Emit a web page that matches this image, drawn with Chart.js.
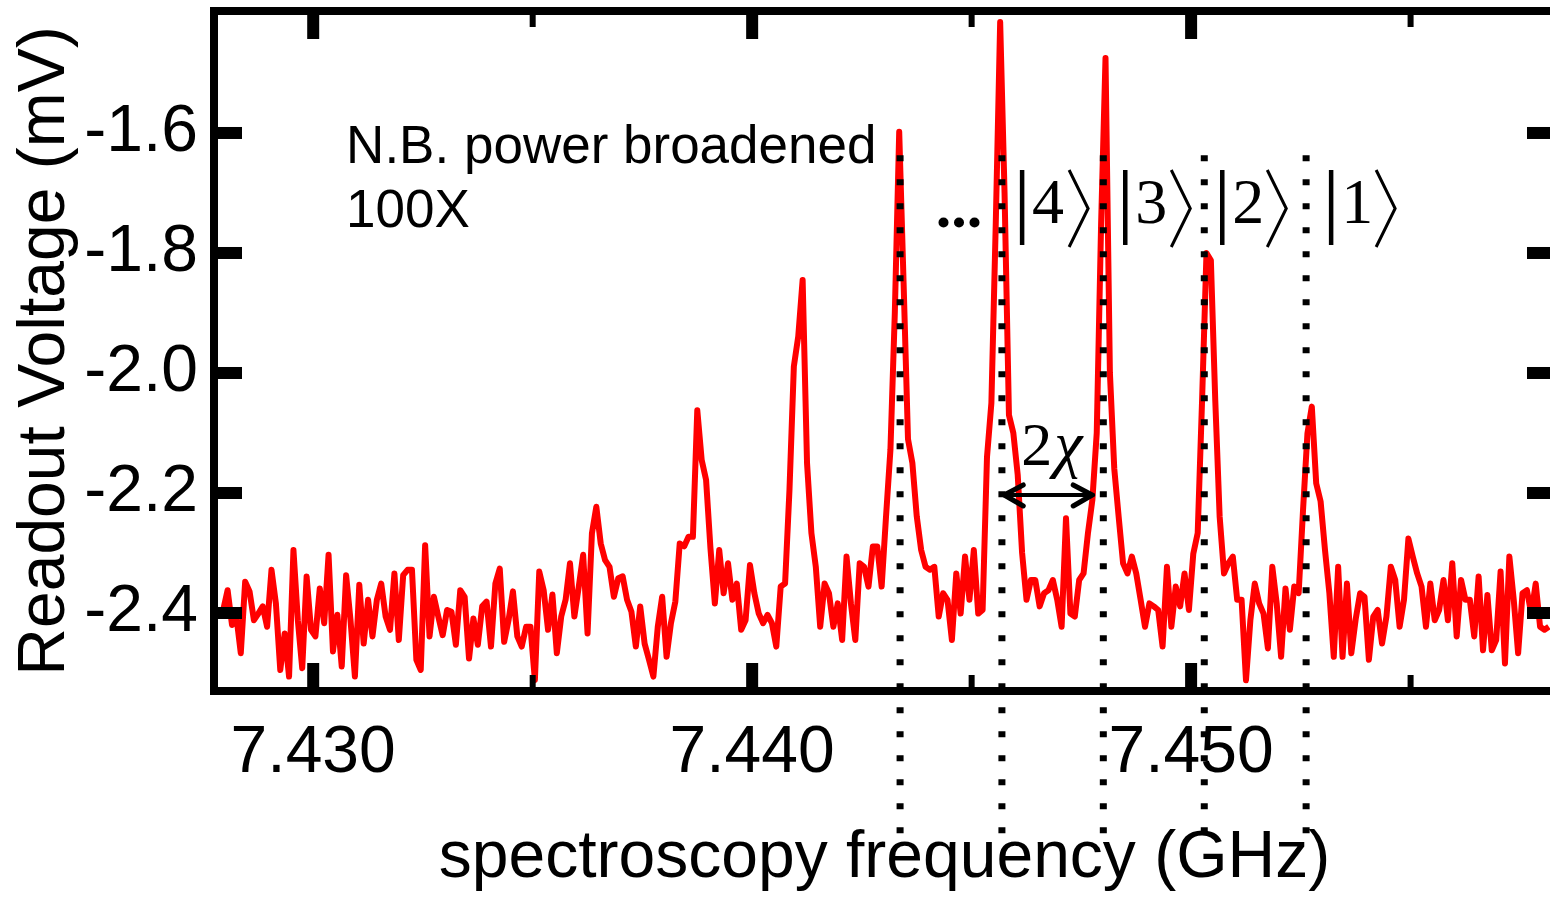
<!DOCTYPE html>
<html>
<head>
<meta charset="utf-8">
<script src="https://cdn.jsdelivr.net/npm/chart.js@4.4.1/dist/chart.umd.min.js"></script>
<style>
  html, body { margin: 0; padding: 0; background: #fff; overflow: hidden; }
  canvas { display: block; }
</style>
</head>
<body>
<canvas id="spec" width="1560" height="898"></canvas>
<script>
// sweep grid (GHz)
const freqStart = 7.42795
const freqStep = 0.0001

// readout voltage (mV), one value per sweep point
const readout = [
  -2.395, -2.362, -2.420, -2.406, -2.467, -2.348, -2.364, -2.412, -2.401, -2.389,
  -2.423, -2.328, -2.384, -2.495, -2.434, -2.506, -2.295, -2.412, -2.492, -2.339,
  -2.428, -2.439, -2.359, -2.417, -2.303, -2.464, -2.403, -2.489, -2.337, -2.412,
  -2.506, -2.353, -2.451, -2.378, -2.439, -2.378, -2.351, -2.406, -2.428, -2.334,
  -2.445, -2.337, -2.328, -2.328, -2.478, -2.495, -2.287, -2.439, -2.373, -2.406,
  -2.437, -2.395, -2.398, -2.453, -2.362, -2.373, -2.476, -2.409, -2.453, -2.389,
  -2.381, -2.456, -2.351, -2.326, -2.448, -2.412, -2.364, -2.439, -2.456, -2.423,
  -2.423, -2.512, -2.331, -2.362, -2.428, -2.369, -2.467, -2.406, -2.378, -2.317,
  -2.406, -2.356, -2.303, -2.434, -2.267, -2.223, -2.284, -2.312, -2.323, -2.373,
  -2.342, -2.339, -2.378, -2.398, -2.456, -2.389, -2.451, -2.478, -2.506, -2.423,
  -2.373, -2.473, -2.417, -2.381, -2.284, -2.289, -2.273, -2.273, -2.062, -2.145,
  -2.178, -2.292, -2.384, -2.295, -2.367, -2.317, -2.378, -2.351, -2.428, -2.412,
  -2.320, -2.367, -2.401, -2.417, -2.403, -2.417, -2.456, -2.356, -2.351, -2.195,
  -1.989, -1.939, -1.845, -2.150, -2.267, -2.323, -2.423, -2.351, -2.367, -2.423,
  -2.384, -2.445, -2.306, -2.384, -2.445, -2.317, -2.323, -2.356, -2.289, -2.289,
  -2.356, -2.239, -2.128, -1.900, -1.598, -1.850, -2.110, -2.150, -2.239, -2.295,
  -2.323, -2.328, -2.323, -2.406, -2.367, -2.378, -2.445, -2.334, -2.401, -2.306,
  -2.378, -2.295, -2.401, -2.395, -2.140, -2.050, -1.750, -1.415, -1.700, -2.070,
  -2.100, -2.170, -2.300, -2.378, -2.345, -2.345, -2.389, -2.367, -2.362, -2.345,
  -2.378, -2.423, -2.242, -2.401, -2.406, -2.345, -2.334, -2.267, -2.212, -2.100,
  -1.750, -1.475, -2.000, -2.160, -2.240, -2.317, -2.334, -2.306, -2.334, -2.378,
  -2.423, -2.384, -2.389, -2.395, -2.456, -2.323, -2.423, -2.356, -2.389, -2.334,
  -2.395, -2.301, -2.267, -2.045, -1.800, -1.812, -2.045, -2.239, -2.334, -2.317,
  -2.306, -2.378, -2.378, -2.512, -2.412, -2.351, -2.384, -2.401, -2.459, -2.323,
  -2.384, -2.473, -2.359, -2.428, -2.356, -2.367, -2.228, -2.101, -2.056, -2.184,
  -2.214, -2.295, -2.367, -2.473, -2.323, -2.473, -2.351, -2.467, -2.410, -2.367,
  -2.373, -2.478, -2.406, -2.395, -2.451, -2.406, -2.323, -2.345, -2.423, -2.378,
  -2.276, -2.306, -2.334, -2.356, -2.423, -2.351, -2.412, -2.395, -2.345, -2.412,
  -2.317, -2.439, -2.345, -2.378, -2.378, -2.439, -2.339, -2.462, -2.370, -2.462,
  -2.445, -2.331, -2.484, -2.306, -2.378, -2.467, -2.367, -2.362, -2.401, -2.351,
  -2.423, -2.428, -2.423
]

const xTickValues = [7.430, 7.435, 7.440, 7.445, 7.450, 7.455]
const yTickValues = [-2.4, -2.2, -2.0, -1.8, -1.6]

// dotted markers at the number-state peaks
const levelFreqs = [7.44337, 7.44569, 7.44800, 7.45030, 7.45262]
const levelSpan = [-1.637, -2.775]

// annotations
const noteLines = ['N.B. power broadened', '100X']
const ketLabels = ['4', '3', '2', '1']
const ketFreqs = [7.44615, 7.44850, 7.45071, 7.45319]
const arrowFreqs = [7.44572, 7.44777]

const sans = '"Liberation Sans", Arial, sans-serif'
const serif = '"Liberation Serif", "Times New Roman", serif'
const isMajor = v => Math.round(v * 1000) % 10 === 0

const frame = {
    id: 'frame',
    afterDatasetsDraw(chart) {
        const {ctx, chartArea: a, scales: {x, y}} = chart
        const lw = 8, h = lw / 2
        ctx.save()
        ctx.fillStyle = '#000'
        ctx.fillRect(a.left - h, a.top - h, a.right - a.left + lw, lw)
        ctx.fillRect(a.left - h, a.bottom - h, a.right - a.left + lw, lw)
        ctx.fillRect(a.left - h, a.top - h, lw, a.bottom - a.top + lw)
        ctx.fillRect(a.right - h, a.top - h, lw, a.bottom - a.top + lw)
        xTickValues.forEach(v => {
            const major = isMajor(v)
            const w = major ? 12 : 6
            const len = major ? 24 : 12
            const p = x.getPixelForValue(v)
            ctx.fillRect(p - w / 2, a.top + h, w, len)
            ctx.fillRect(p - w / 2, a.bottom - h - len, w, len)
        })
        yTickValues.forEach(v => {
            const p = y.getPixelForValue(v)
            ctx.fillRect(a.left + h, p - 6, 24, 12)
            ctx.fillRect(a.right - h - 24, p - 6, 24, 12)
        })
        ctx.restore()
    }
}

const notes = {
    id: 'notes',
    afterDraw(chart) {
        const {ctx, scales: {x, y}} = chart
        const px = f => x.getPixelForValue(f)
        const py = v => y.getPixelForValue(v)
        ctx.save()
        ctx.fillStyle = '#000'
        ctx.strokeStyle = '#000'
        ctx.textAlign = 'left'
        ctx.textBaseline = 'alphabetic'

        ctx.font = '53px ' + sans
        ctx.fillText(noteLines[0], px(7.43075), py(-1.65))
        ctx.fillText(noteLines[1], px(7.43075), py(-1.7567))

        ctx.font = 'bold 62px ' + serif
        ctx.fillText('...', px(7.44418), py(-1.7567))

        // |n> kets
        const top = py(-1.6617), bot = py(-1.79), mid = (top + bot) / 2
        ctx.font = '64px ' + serif
        ketFreqs.forEach((f, k) => {
            const bx = px(f)
            ctx.lineWidth = 4.5
            ctx.beginPath()
            ctx.moveTo(bx, top)
            ctx.lineTo(bx, bot - 2)
            ctx.stroke()
            const tx = bx + 10
            ctx.fillText(ketLabels[k], tx, py(-1.75))
            const ax = tx + ctx.measureText(ketLabels[k]).actualBoundingBoxRight + 6
            ctx.lineWidth = 3
            ctx.beginPath()
            ctx.moveTo(ax, top)
            ctx.lineTo(ax + 19, mid)
            ctx.lineTo(ax, bot)
            ctx.stroke()
        })

        // 2chi arrow
        const ay = py(-2.2033), a0 = px(arrowFreqs[0]), a1 = px(arrowFreqs[1])
        ctx.lineCap = 'round'
        ctx.lineJoin = 'round'
        ctx.lineWidth = 4
        ctx.beginPath()
        ctx.moveTo(a0, ay)
        ctx.lineTo(a1, ay)
        ctx.stroke()
        ctx.lineWidth = 5
        ctx.beginPath()
        ctx.moveTo(a0 + 20, ay - 10)
        ctx.lineTo(a0 + 1, ay)
        ctx.lineTo(a0 + 20, ay + 11)
        ctx.stroke()
        ctx.beginPath()
        ctx.moveTo(a1 - 20, ay - 10)
        ctx.lineTo(a1 - 1, ay)
        ctx.lineTo(a1 - 20, ay + 11)
        ctx.stroke()

        const cx = px(7.44613), cy = py(-2.1533)
        ctx.font = '62px ' + serif
        ctx.fillText('2', cx, cy)
        const w2 = ctx.measureText('2').width
        ctx.font = 'italic 64px ' + serif
        ctx.fillText('\u03c7', cx + w2 + 2, cy)
        ctx.restore()
    }
}

const traceSet = {
    data: readout.map((v, i) => ({x: freqStart + i * freqStep, y: v})),
    borderColor: '#ff0000',
    borderWidth: 6,
    borderJoinStyle: 'round',
    pointRadius: 0,
    tension: 0,
    order: 1
}

const levelSets = levelFreqs.map(f => ({
    data: levelSpan.map(v => ({x: f, y: v})),
    borderColor: '#000',
    borderWidth: 7,
    borderDash: [6, 18],
    pointRadius: 0,
    clip: false,
    order: 0
}))

new Chart(document.getElementById('spec'), {
    type: 'line',
    data: {
        datasets: [traceSet, ...levelSets]
    },
    options: {
        responsive: false,
        animation: false,
        devicePixelRatio: 1,
        layout: {padding: {top: 11, right: 5, left: 0, bottom: 0}},
        plugins: {
            legend: {display: false},
            tooltip: {enabled: false}
        },
        scales: {
            x: {
                type: 'linear',
                bounds: 'data',
                min: 7.42774,
                max: 7.45829,
                grid: {display: false, drawTicks: false},
                border: {display: false},
                afterBuildTicks: s => { s.ticks = xTickValues.map(value => ({value})) },
                afterFit: s => { s.height = 207; s.paddingLeft = 0; s.paddingRight = 0 },
                ticks: {
                    autoSkip: false,
                    maxRotation: 0,
                    padding: 23,
                    color: '#000',
                    font: {family: sans, size: 66},
                    callback: v => isMajor(v) ? v.toFixed(3) : ''
                },
                title: {
                    display: true,
                    text: 'spectroscopy frequency (GHz)',
                    color: '#000',
                    font: {family: sans, size: 66},
                    padding: 0
                }
            },
            y: {
                type: 'linear',
                bounds: 'data',
                min: -2.53,
                max: -1.3967,
                grid: {display: false, drawTicks: false},
                border: {display: false},
                afterBuildTicks: s => { s.ticks = yTickValues.map(value => ({value})) },
                afterFit: s => { s.width = 214; s.paddingTop = 0; s.paddingBottom = 0 },
                ticks: {
                    padding: 16,
                    color: '#000',
                    font: {family: sans, size: 66},
                    callback: v => v.toFixed(1)
                },
                title: {
                    display: true,
                    text: 'Readout Voltage (mV)',
                    color: '#000',
                    font: {family: sans, size: 66},
                    padding: {top: 6, bottom: 0}
                }
            }
        }
    },
    plugins: [frame, notes]
});
</script>
</body>
</html>
